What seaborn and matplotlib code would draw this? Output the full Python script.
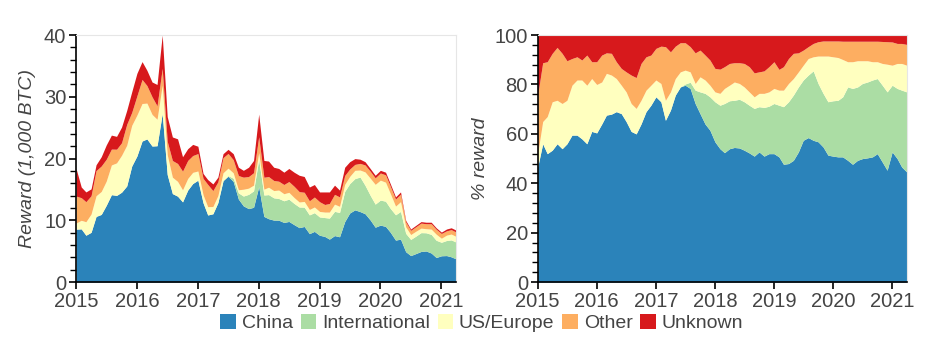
import matplotlib as mpl
import matplotlib.pyplot as plt
import matplotlib.dates as mdates
from matplotlib.patches import Patch
import seaborn as sns
import pandas as pd
import numpy as np

# Monthly, Jan 2015 .. Apr 2021
dates = pd.date_range("2015-01-01", periods=76, freq="MS")

# Total reward (1,000 BTC)
total = [18.4, 15.4, 14.6, 15.1, 19.0, 20.3, 22.2, 23.8, 23.6, 25.1, 27.8, 30.8,
         33.8, 35.7, 34.3, 32.4, 32.0, 40.0, 26.8, 23.5, 23.2, 20.3, 21.6, 22.3,
         22.0, 17.6, 16.6, 15.9, 17.0, 20.8, 21.5, 20.8, 18.6, 18.1, 18.6, 19.7,
         27.2, 19.7, 19.6, 18.6, 18.4, 17.8, 18.4, 17.8, 17.3, 17.1, 15.4, 15.8,
         14.6, 14.6, 14.6, 15.7, 14.9, 18.6, 19.5, 20.0, 19.9, 19.5, 18.4, 17.3,
         18.1, 17.8, 15.9, 13.8, 14.6, 10.0, 8.6, 9.2, 9.8, 9.7, 9.7, 8.8,
         8.1, 8.6, 8.8, 8.4]

# Cumulative share boundaries (% of reward)
top_china = [46.6, 56, 52, 53.4, 56, 54, 56, 59.5, 59.5, 58, 56, 61,
             60.4, 64, 67.6, 68, 69, 68.2, 65, 61, 60, 64, 69, 71.6,
             75, 73, 65.5, 69.6, 75.7, 79, 79.7, 78.4, 72.3, 68.2, 64, 61.5,
             56.8, 54, 52.4, 54, 54.5, 54.3, 53.4, 52.3, 51, 52.7, 51, 52,
             52, 50.7, 47.7, 48, 49.3, 52.7, 57.4, 58.5, 57.4, 56.8, 54.7, 51.4,
             51, 50.7, 50.7, 49.3, 47.7, 49.3, 50, 50.3, 50.7, 52, 48.6, 45.3,
             52.7, 50, 46.6, 44.6]
top_intl = [46.6, 56, 52, 53.4, 56, 54, 56, 59.5, 59.5, 58, 56, 61,
            60.4, 64, 67.6, 68, 69, 68.2, 65, 61, 60, 64, 69, 71.6,
            75, 73, 65.5, 69.6, 75.7, 79, 80.2, 80.9, 77.7, 77, 76.4, 75,
            73, 71.6, 72.3, 73.4, 73.6, 74, 73, 71.6, 70.3, 71, 70.7, 71.2,
            72.3, 71.6, 71, 73, 75.7, 79, 81.8, 83.8, 85.5, 80.4, 76.4, 73,
            73.4, 73.6, 75, 79, 78.4, 79, 80.4, 81, 81.8, 82.4, 79.7, 77,
            79.7, 78.4, 77.7, 77]
top_us = [52, 65, 67, 73, 73.6, 72.3, 73.6, 79.7, 81.8, 81.8, 79.7, 82.4,
          80, 81, 84.5, 83.8, 82.4, 79.7, 77, 72.3, 70.3, 73.6, 77.7, 79.7,
          81.8, 80.4, 73.6, 77, 82.4, 85.1, 85.8, 85.1, 80.4, 83.1, 81.8, 79.7,
          77, 76.4, 78.4, 79.7, 81, 80.4, 79, 77, 75, 76.4, 76.4, 77,
          78.4, 77.7, 77.7, 80.4, 82.4, 85.1, 87.8, 90.5, 91.2, 91.5, 91.5, 91.5,
          91.2, 90.9, 90.1, 89.2, 89.2, 89.6, 89.6, 89.6, 89.2, 89.2, 88.5, 88.2,
          87.8, 88.5, 88.5, 87.8]
top_other = [75.7, 88.8, 89.2, 92.6, 95, 92.6, 89.6, 90.5, 91.2, 89.9, 91.9, 89.2,
             89.2, 91.9, 92.8, 92.6, 89.2, 86.5, 85.1, 83.8, 82.8, 88.5, 91.2, 91.9,
             94.6, 95.5, 95.3, 93.2, 95.5, 96.9, 96.9, 95.3, 92.8, 93.9, 91.9, 89.9,
             86.5, 86.2, 87.2, 88.5, 88.8, 88.8, 88.5, 87.2, 84.7, 85.1, 85.5, 87.2,
             89.2, 86.1, 87.2, 90.5, 92.6, 92.8, 93.9, 95.3, 96.6, 97.3, 97.6, 97.6,
             97.6, 97.6, 97.5, 97.5, 97.5, 97.5, 97.5, 97.5, 97.5, 97.5, 97.4, 97.3,
             97.2, 96.6, 96.6, 96.2]

labels = ["China", "International", "US/Europe", "Other", "Unknown"]
colors = ["#2b83ba", "#abdda4", "#ffffbf", "#fdae61", "#d7191c"]

# cumulative boundaries -> per-region shares
bounds = np.array([np.zeros(76), top_china, top_intl, top_us, top_other, np.full(76, 100.0)])
share = np.diff(bounds, axis=0)
reward = share / 100.0 * np.array(total)

sns.set_theme(style="ticks")
TXT = "#444444"
plt.rcParams["font.family"] = ["Liberation Sans", "DejaVu Sans"]
plt.rcParams["text.color"] = TXT
plt.rcParams["axes.labelcolor"] = TXT
plt.rcParams["xtick.color"] = "black"
plt.rcParams["ytick.color"] = "black"
plt.rcParams["xtick.labelcolor"] = TXT
plt.rcParams["ytick.labelcolor"] = TXT

fig = plt.figure(figsize=(9.39, 3.54), dpi=100)
ax1 = fig.add_axes([0.081, 0.203, 0.405, 0.698])
ax2 = fig.add_axes([0.5726, 0.203, 0.393, 0.698])

ax1.stackplot(dates, reward, colors=colors, linewidth=0)
ax2.stackplot(dates, share, colors=colors, linewidth=0)

for ax, ymax, minor in [(ax1, 40, 2), (ax2, 100, 4)]:
    ax.set_xlim(dates[0], dates[-1])
    ax.set_ylim(0, ymax)
    ax.xaxis.set_major_locator(mdates.YearLocator())
    ax.xaxis.set_major_formatter(mdates.DateFormatter("%Y"))
    ax.yaxis.set_minor_locator(mpl.ticker.MultipleLocator(minor))
    ax.tick_params(axis="both", which="major", labelsize=14.5, length=5, width=1.2, pad=2)
    ax.tick_params(axis="y", which="minor", length=4, width=1)
    for s in ["top", "right"]:
        ax.spines[s].set_color("#e6e6e6")
        ax.spines[s].set_linewidth(0.8)
    for s in ["left", "bottom"]:
        ax.spines[s].set_color("black")
        ax.spines[s].set_linewidth(1.2)
    ax.set_xlabel("")

ax1.set_yticks([0, 10, 20, 30, 40])
ax2.set_yticks([0, 20, 40, 60, 80, 100])
ax1.set_ylabel("Reward (1,000 BTC)", fontsize=14, style="italic", labelpad=6)
ax2.set_ylabel("% reward", fontsize=14, style="italic", labelpad=4)

handles = [Patch(facecolor=c, edgecolor="none") for c in colors]
fig.legend(handles, labels, loc="center", bbox_to_anchor=(0.513, 0.088), ncol=5,
           frameon=False, fontsize=14, handlelength=0.8, handleheight=0.8,
           handletextpad=0.3, columnspacing=0.4)

plt.savefig("out.png", dpi=100)
